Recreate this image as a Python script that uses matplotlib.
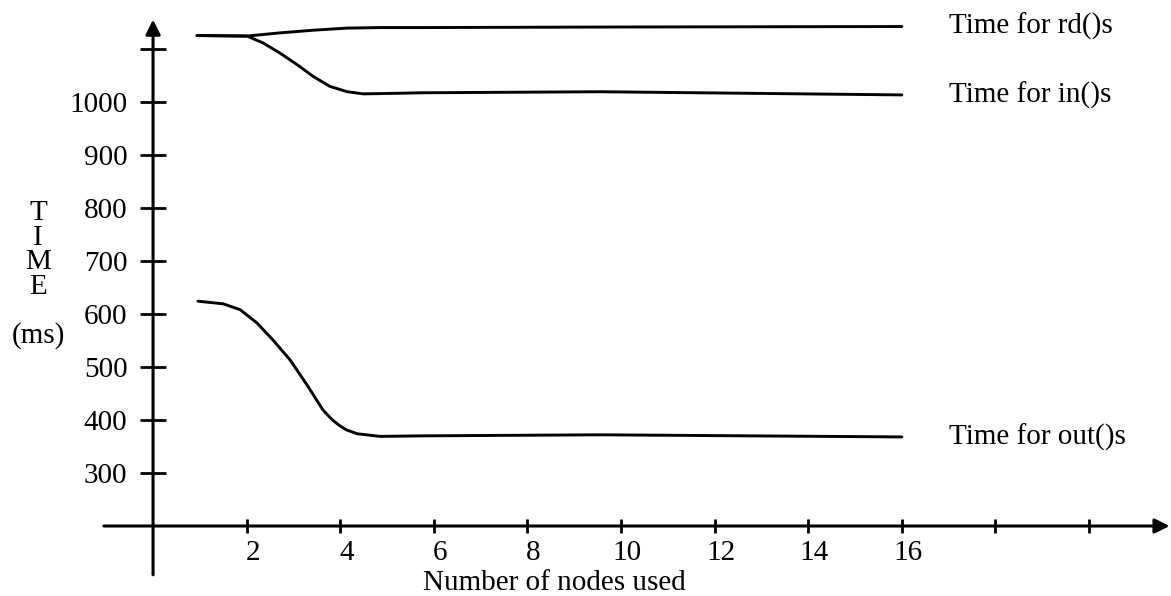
import numpy as np
import matplotlib
matplotlib.use('Agg')
from matplotlib import pyplot as plt
from matplotlib.transforms import ScaledTranslation

plt.rcParams['font.family'] = ['Liberation Serif', 'DejaVu Serif']
plt.rcParams['font.size'] = 21

# Measured access times (ms) against number of nodes
rd_nodes = [0.94, 2.01, 2.71, 3.42, 4.14, 4.85, 5.71, 9.55, 16]
rd_ms = [1125, 1124, 1130, 1135, 1139, 1140, 1140, 1141, 1142]

in_nodes = [0.94, 2.01, 2.35, 2.71, 3.08, 3.42, 3.78, 4.15, 4.49, 5.21, 5.71, 9.55, 16]
in_ms = [1125, 1124, 1111, 1092, 1070, 1048, 1029, 1019, 1015, 1016, 1017, 1019, 1013]

out_nodes = [0.96, 1.50, 1.86, 2.22, 2.56, 2.93, 3.29, 3.63, 3.82, 3.99, 4.14, 4.36, 4.85, 5.71, 9.55, 16]
out_ms = [624, 619, 608, 583, 551, 513, 466, 419, 401, 389, 381, 374, 369, 370, 372, 368]

series_labels = ["Time for rd()s", "Time for in()s", "Time for out()s"]

x_ticks = [2, 4, 6, 8, 10, 12, 14, 16, 18, 20]
x_tick_labels = ["2", "4", "6", "8", "10", "12", "14", "16", "", ""]
y_ticks = [300, 400, 500, 600, 700, 800, 900, 1000, 1100]
y_tick_labels = ["300", "400", "500", "600", "700", "800", "900", "1000", ""]

fig = plt.figure(figsize=(11.71, 5.96), dpi=100)
ax = fig.add_axes([0, 0, 1, 1])
ax.set_xlim(-3.27, 21.75)
ax.set_ylim(68, 1192)

# axes cross at (0, 200)
ax.spines['left'].set_position(('data', 0))
ax.spines['bottom'].set_position(('data', 200))
for side in ['left', 'bottom', 'top', 'right']:
    ax.spines[side].set_visible(False)

arrow = dict(arrowstyle='-|>', color='black', lw=2.2, mutation_scale=22, shrinkA=0, shrinkB=0)
ax.annotate('', xy=(0, 1155), xytext=(0, 108), arrowprops=arrow)
ax.annotate('', xy=(21.72, 200), xytext=(-1.05, 200), arrowprops=arrow)

ax.set_xticks(x_ticks)
ax.set_xticklabels(x_tick_labels)
ax.set_yticks(y_ticks)
ax.set_yticklabels(y_tick_labels)
ax.tick_params(axis='x', direction='inout', length=10, width=2, pad=5, labelsize=21)
ax.tick_params(axis='y', direction='inout', length=19, width=2, pad=9, labelsize=21)

# x tick numbers sit a little right of their ticks
shift = ScaledTranslation(6 / 100, 0, fig.dpi_scale_trans)
for lbl in ax.get_xticklabels():
    lbl.set_transform(lbl.get_transform() + shift)

# curves
for nodes, ms, label in zip([rd_nodes, in_nodes, out_nodes], [rd_ms, in_ms, out_ms], series_labels):
    ax.plot(nodes, ms, color='black', lw=2.1, solid_capstyle='round', solid_joinstyle='round')
    ax.text(17.0, ms[-1], label, ha='left', va='center', fontsize=21)

fig.text(38 / 1171, 1 - 250 / 596, "T\nI\nM\nE", ha='center', va='center',
         multialignment='center', linespacing=0.92, fontsize=21)
fig.text(38 / 1171, 1 - 336 / 596, "(ms)", ha='center', va='center', fontsize=21)
fig.text(554 / 1171, 1 - 583 / 596, "Number of nodes used", ha='center', va='center', fontsize=21)

fig.savefig('out.png', dpi=100)
